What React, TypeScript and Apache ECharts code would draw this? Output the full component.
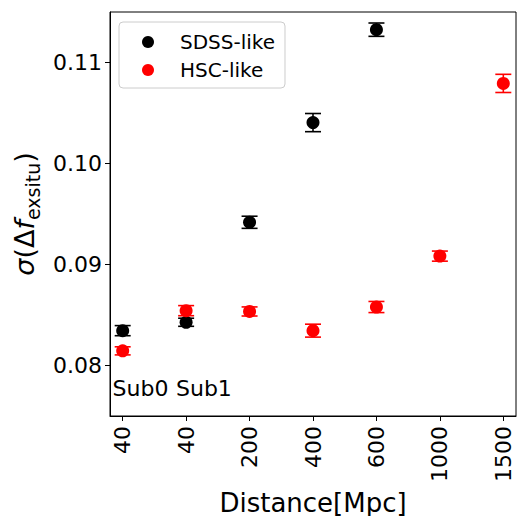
import React, { useEffect, useRef } from "react";
import * as echarts from "echarts";

const categories = ["40", "40", "200", "400", "600", "1000", "1500"];
const sdssValues = [0.08345, 0.08428, 0.09418, 0.10405, 0.11325];
const sdssErrors = [0.0005, 0.0004, 0.0006, 0.0009, 0.00066];
const hscValues = [0.08145, 0.08543, 0.08535, 0.08345, 0.08579, 0.09083, 0.10793];
const hscErrors = [0.0004, 0.0005, 0.00045, 0.00064, 0.00055, 0.0005, 0.0009];
const yTicks = [0.08, 0.09, 0.1, 0.11];
const annotations: [number, number, string][] = [
  [-0.16, 0.0777, "Sub0"],
  [0.84, 0.0777, "Sub1"],
];

const FONT = "DejaVu Sans";

function errRender(color: string) {
  return (params: any, api: any) => {
    const x = api.value(0);
    const y = api.value(1);
    const e = api.value(2);
    const top = api.coord([x, y + e]);
    const bot = api.coord([x, y - e]);
    const hw = 8;
    const style = { stroke: color, lineWidth: 1.6 };
    return {
      type: "group",
      children: [
        { type: "line", shape: { x1: top[0], y1: top[1], x2: bot[0], y2: bot[1] }, style },
        { type: "line", shape: { x1: top[0] - hw, y1: top[1], x2: top[0] + hw, y2: top[1] }, style },
        { type: "line", shape: { x1: bot[0] - hw, y1: bot[1], x2: bot[0] + hw, y2: bot[1] }, style },
      ],
    };
  };
}

export default function App() {
  const ref = useRef<HTMLDivElement>(null);
  useEffect(() => {
    document.body.style.margin = "0";
    const chart = echarts.init(ref.current!, null, { renderer: "svg" });
    const idx = categories.map((_, i) => i);
    chart.setOption({
      animation: false,
      backgroundColor: "#fff",
      grid: {
        left: 110,
        top: 12,
        width: 406,
        height: 404,
        show: true,
        borderColor: "#000",
        borderWidth: 1,
        backgroundColor: "transparent",
        outerBoundsMode: "none",
        containLabel: false,
      },
      legend: {
        left: 119,
        top: 22,
        orient: "vertical",
        data: [
          { name: "SDSS-like", icon: "circle" },
          { name: "HSC-like", icon: "circle" },
        ],
        itemWidth: 12,
        itemHeight: 12,
        itemGap: 8,
        padding: [10, 10, 8, 23],
        backgroundColor: "#fff",
        borderColor: "#cccccc",
        borderWidth: 1,
        borderRadius: 4,
        formatter: (name: string) => "{g|}{t|" + name + "}",
        textStyle: {
          fontSize: 20,
          lineHeight: 20,
          fontFamily: FONT,
          color: "#000",
          rich: {
            g: { width: 21, fontSize: 20, lineHeight: 20 },
            t: { fontSize: 20, lineHeight: 20, fontFamily: FONT, color: "#000" },
          },
        },
      },
      xAxis: {
        type: "value",
        min: -0.2,
        max: 6.2,
        name: "Distance[Mpc]",
        nameLocation: "middle",
        nameGap: 67,
        nameTextStyle: { fontSize: 26, lineHeight: 22, fontFamily: FONT, color: "#000" },
        splitLine: { show: false },
        axisLine: { show: true, onZero: false, lineStyle: { color: "#000", width: 1 } },
        axisTick: { show: true, length: 5, customValues: idx, lineStyle: { color: "#000", width: 1 } },
        axisLabel: {
          customValues: idx,
          rotate: 90,
          margin: 10,
          fontSize: 22,
          fontFamily: FONT,
          color: "#000",
          formatter: (v: number) => categories[Math.round(v)],
        },
      },
      yAxis: {
        type: "value",
        min: 0.075,
        max: 0.115,
        name: "{i|σ}{a|(Δ}{i|f}{s|exsitu}{a|)}",
        nameLocation: "middle",
        nameGap: 65,
        nameTextStyle: {
          fontFamily: FONT,
          color: "#000",
          rich: {
            a: { fontSize: 27, fontFamily: FONT, lineHeight: 36, verticalAlign: "middle", color: "#000" },
            i: { fontSize: 27, fontFamily: FONT, fontStyle: "italic", lineHeight: 36, verticalAlign: "middle", color: "#000" },
            s: { fontSize: 19, fontFamily: FONT, lineHeight: 19, verticalAlign: "bottom", color: "#000" },
          },
        },
        splitLine: { show: false },
        axisLine: { show: true, onZero: false, lineStyle: { color: "#000", width: 1 } },
        axisTick: { show: true, length: 5, customValues: yTicks, lineStyle: { color: "#000", width: 1 } },
        axisLabel: {
          customValues: yTicks,
          margin: 8,
          fontSize: 22,
          fontFamily: FONT,
          color: "#000",
          formatter: (v: number) => v.toFixed(2),
        },
      },
      series: [
        {
          type: "custom",
          name: "SDSS-err",
          renderItem: errRender("#000"),
          data: sdssValues.map((v, i) => [i, v, sdssErrors[i]]),
          z: 2,
        },
        {
          type: "scatter",
          name: "SDSS-like",
          symbol: "circle",
          symbolSize: 13,
          itemStyle: { color: "#000", opacity: 1 },
          data: sdssValues.map((v, i) => [i, v]),
          z: 3,
        },
        {
          type: "custom",
          name: "HSC-err",
          renderItem: errRender("#ff0000"),
          data: hscValues.map((v, i) => [i, v, hscErrors[i]]),
          z: 4,
        },
        {
          type: "scatter",
          name: "HSC-like",
          symbol: "circle",
          symbolSize: 13,
          itemStyle: { color: "#ff0000", opacity: 1 },
          data: hscValues.map((v, i) => [i, v]),
          z: 5,
        },
        {
          type: "custom",
          name: "annotations",
          renderItem: (params: any, api: any) => {
            const p = api.coord([api.value(0), api.value(1)]);
            const d = annotations[params.dataIndex];
            return {
              type: "text",
              x: p[0],
              y: p[1],
              style: {
                text: d[2],
                fontSize: 22,
                fontFamily: FONT,
                fill: "#000",
                align: "left",
                verticalAlign: "middle",
              },
            };
          },
          data: annotations.map((a) => [a[0], a[1]]),
          z: 6,
        },
      ],
    });
    return () => chart.dispose();
  }, []);
  return <div ref={ref} style={{ width: 518, height: 516 }} />;
}
